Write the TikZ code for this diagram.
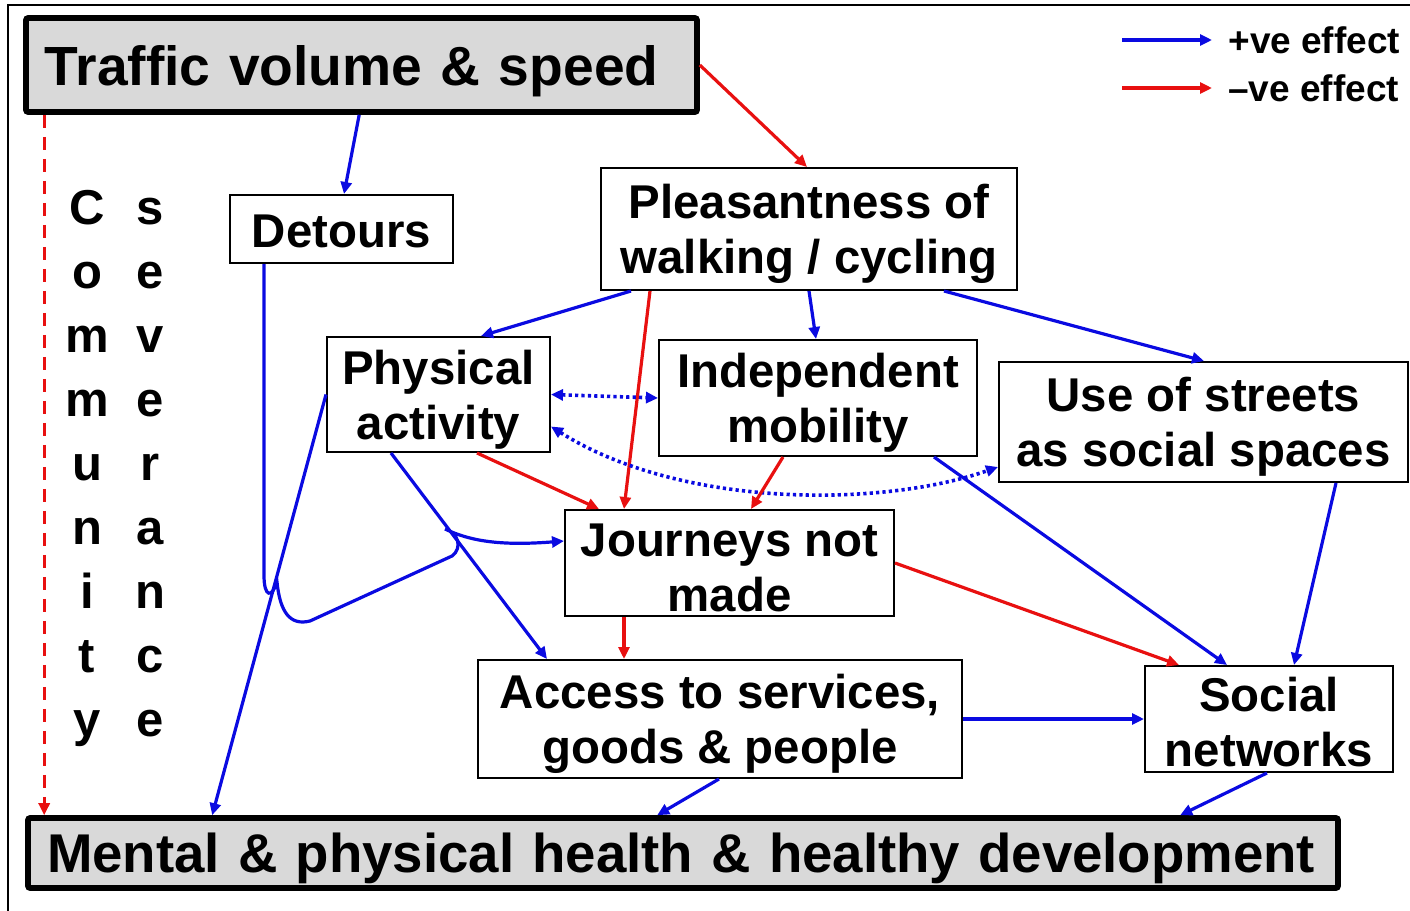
\documentclass[tikz,border=0pt]{standalone}
\usepackage{fontspec}
\setmainfont{Liberation Sans}
\usetikzlibrary{arrows.meta}
\definecolor{pblue}{RGB}{10,10,225}
\definecolor{nred}{RGB}{232,16,16}
\definecolor{boxgray}{RGB}{217,217,217}
\begin{document}
\begin{tikzpicture}[x=0.5pt,y=-0.5pt,
  box/.style={draw=black, line width=1pt, fill=white, inner sep=0pt},
  boxtext/.style={font=\fontsize{23.7}{27.5}\selectfont\bfseries, align=center, inner sep=0pt, yshift=-2.5pt},
  bigbox/.style={draw=black, line width=2.8pt, fill=boxgray, align=left, inner xsep=9.5pt, inner ysep=0pt, text depth=0pt, rounded corners=1pt},
  tip/.style={-{Triangle[length=6pt,width=5.5pt]}},
  posarrow/.style={draw=pblue, line width=1.6pt, tip},
  negarrow/.style={draw=nred, line width=1.6pt, tip},
  dotarrow/.style={draw=pblue, line width=1.8pt, dash pattern=on 1.6pt off 1.6pt, {Triangle[length=6pt,width=5.5pt]}-{Triangle[length=6pt,width=5.5pt]}},
  redash/.style={draw=nred, line width=1.6pt, dash pattern=on 6.5pt off 4.5pt, tip},
  letter/.style={font=\fontsize{24.5}{24.5}\selectfont\bfseries, anchor=base, inner sep=0pt},
  legtext/.style={font=\fontsize{18.5}{20}\selectfont\bfseries, anchor=west, inner xsep=8pt, inner ysep=0pt}
]
\useasboundingbox (0,0) rectangle (1410,911);
\draw[line width=1pt] (8,911) -- (8,5) -- (1410,5);

% main boxes
\node[bigbox, font=\fontsize{27.6}{32}\selectfont\bfseries, text width=316.5pt, minimum height=47pt] (traffic) at (361.5,65) {\mbox{Traffic volume \& speed}};
\node[bigbox, font=\fontsize{27.3}{32}\selectfont\bfseries, text width=636pt, minimum height=35pt] (mental) at (683,853) {\mbox{Mental \& physical health \& healthy development}};

\node[box, minimum width=111.5pt, minimum height=34pt, label={[boxtext, yshift=1.5pt]center:Detours}] (detours) at (341.5,229) {};
\node[box, minimum width=208pt, minimum height=61pt, label={[boxtext]center:{Pleasantness of\\walking / cycling}}] (pleas) at (809,229) {};
\node[box, minimum width=111.5pt, minimum height=57.5pt, label={[boxtext]center:{Physical\\activity}}] (phys) at (438.5,394.5) {};
\node[box, minimum width=159pt, minimum height=58pt, label={[boxtext]center:{Independent\\mobility}}] (indep) at (818,398) {};
\node[box, minimum width=204.5pt, minimum height=60pt, label={[boxtext]center:{Use of streets\\as social spaces}}] (streets) at (1203.5,422) {};
\node[box, minimum width=164.5pt, minimum height=53pt, label={[boxtext]center:{Journeys not\\made}}] (journeys) at (729.5,563) {};
\node[box, minimum width=242pt, minimum height=59pt, label={[boxtext]center:{Access to services,\\goods \& people}}] (access) at (720,719) {};
\node[box, minimum width=124pt, minimum height=53pt, label={[boxtext, yshift=1pt]center:{Social\\networks}}] (social) at (1269,719) {};

% vertical words
\foreach \c [count=\i from 0] in {C,o,m,m,u,n,i,t,y}
  \node[letter] (cl\i) at (87, 224+64*\i) {\c};
\foreach \c [count=\i from 0] in {s,e,v,e,r,a,n,c,e}
  \node[letter] (sl\i) at (150, 224+64*\i) {\c};

% legend
\coordinate (la1) at (1122,40);
\node[legtext] (lt1) at (1212,40) {+ve effect};
\draw[posarrow] (la1) -- (lt1.west);
\coordinate (la2) at (1122,88);
\node[legtext] (lt2) at (1212,88) {\textendash ve effect};
\draw[negarrow] (la2) -- (lt2.west);

% connectors
\draw[posarrow] ([xshift=168pt]traffic.south west) -- ([xshift=57.5pt]detours.north west);
\draw[negarrow] (traffic.east) -- ([xshift=103.5pt]pleas.north west);
\draw[posarrow] ([xshift=15.5pt]pleas.south west) -- ([xshift=77.5pt]phys.north west);
\draw[negarrow] ([xshift=25pt]pleas.south west) -- ([xshift=30pt]journeys.north west);
\draw[posarrow] ([xshift=104.5pt]pleas.south west) -- ([xshift=79pt]indep.north west);
\draw[posarrow] ([xshift=172pt]pleas.south west) -- ([xshift=103pt]streets.north west);
\draw[dotarrow] (phys.east) -- (indep.west);
\draw[dotarrow] ([yshift=-16pt]phys.east) .. controls (680,508) and (880,508) .. ([yshift=-22.5pt]streets.west);
\draw[negarrow] ([xshift=75.5pt]phys.south west) -- ([xshift=17.5pt]journeys.north west);
\draw[negarrow] ([xshift=62.5pt]indep.south west) -- ([xshift=93.5pt]journeys.north west);
\draw[posarrow] ([xshift=32.5pt]phys.south west) -- ([xshift=35pt]access.north west);
\draw[posarrow] ([xshift=138pt]indep.south west) -- ([xshift=41.5pt]social.north west);
\draw[posarrow] ([xshift=169pt]streets.south west) -- ([xshift=75pt]social.north west);
\draw[negarrow] (journeys.east) -- ([xshift=17.5pt]social.north west);
\draw[negarrow] ([xshift=30pt]journeys.south west) -- ([xshift=73.5pt]access.north west);
\draw[posarrow] (access.east) -- (social.west);
\draw[posarrow] ([xshift=121pt]access.south west) -- ([xshift=316pt]mental.north west);
\draw[posarrow] ([xshift=61.5pt]social.south west) -- ([xshift=577.5pt]mental.north west);
\draw[posarrow] (phys.west) -- ([xshift=93.5pt]mental.north west);
\draw[posarrow] ([xshift=17.5pt]detours.south west) -- (264,575)
  .. controls (264,598) and (272,598) .. (277,582)
  .. controls (280,612) and (290,626) .. (310,621)
  -- (452,556)
  .. controls (463,548) and (458,532) .. (445,529)
  .. controls (470,541) and (500,546) .. ([yshift=11pt]journeys.west);
\draw[redash] ([xshift=10.5pt]traffic.south west) -- ([xshift=9.5pt]mental.north west);
\end{tikzpicture}
\end{document}
